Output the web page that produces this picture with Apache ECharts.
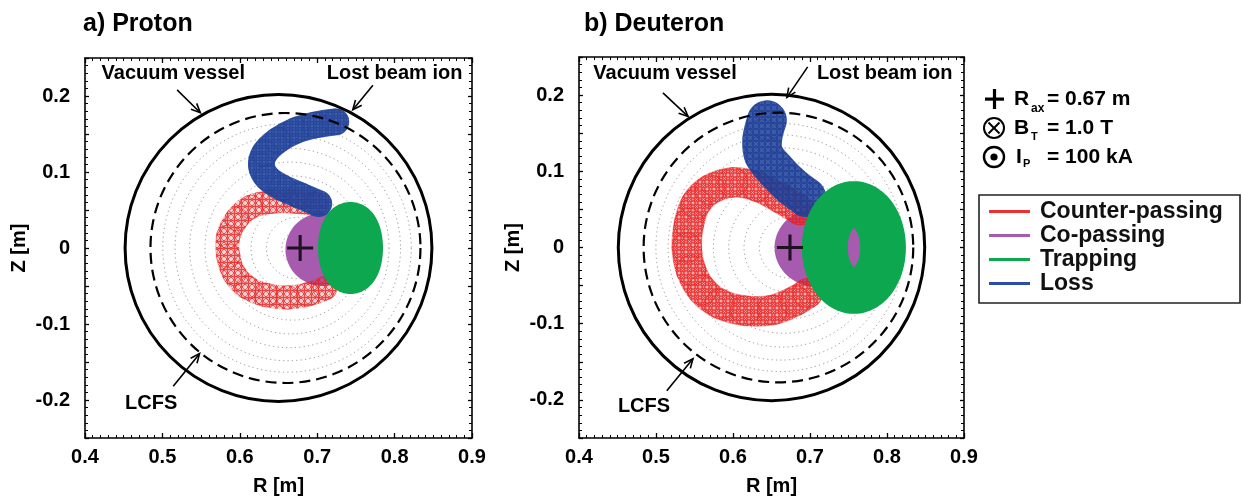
<!DOCTYPE html>
<html>
<head>
<meta charset="utf-8">
<script src="https://cdn.jsdelivr.net/npm/echarts@6/dist/echarts.min.js"></script>
<style>
  html, body { margin: 0; padding: 0; background: #fff; }
  #chart { width: 1242px; height: 501px; }
</style>
</head>
<body>
<div id="chart"></div>
<script>
// ---- axes ----
const rRange = [0.4, 0.9];
const zRange = [-0.25, 0.25];
const zTickLabels = [-0.2, -0.1, 0, 0.1, 0.2];

// ---- machine geometry: [R centre, Z centre, radius] ----
const vessel = [0.65, 0, 0.2];
const lcfs = [0.659, 0, 0.176];
const fluxSurfaces = [
  [0.676, 0, 0.022],
  [0.674, 0, 0.040],
  [0.672, 0, 0.058],
  [0.670, 0, 0.076],
  [0.668, 0, 0.094],
  [0.666, 0, 0.112],
  [0.664, 0, 0.130],
  [0.662, 0, 0.147],
  [0.661, 0, 0.162]
];

// ---- magnetic axis [R, Z] ----
const protonAxis = [0.678, 0];
const deuteronAxis = [0.674, 0];

// ---- proton orbits ----
// guiding-centre paths [R, Z]; gyro radius in m
const protonCounterPath = [
  [0.698, 0.058], [0.672, 0.061], [0.642, 0.061], [0.614, 0.054],
  [0.596, 0.038], [0.585, 0.015], [0.585, -0.010], [0.593, -0.034],
  [0.610, -0.052], [0.634, -0.062], [0.662, -0.065], [0.688, -0.061],
  [0.710, -0.053]
];
const protonCounterRho = 0.016;
const protonLossPath = [
  [0.724, 0.166], [0.698, 0.162], [0.672, 0.1545], [0.649, 0.1416],
  [0.632, 0.1247], [0.628, 0.1078], [0.636, 0.0922], [0.655, 0.0792],
  [0.6785, 0.0688], [0.702, 0.0584]
];
const protonLossRho = 0.0175;
// co-passing region [R centre, Z centre, half-width, half-height]
const protonCoPassing = [0.707, -0.002, 0.048, 0.048];
// trapped orbit [R centre, Z centre, half-width, half-height, band width]
const protonTrapping = [0.743, 0, 0.012, 0.030, 0.060];

// ---- deuteron orbits ----
const deuteronCounterPath = [
  [0.687, 0.049], [0.661, 0.065], [0.631, 0.080], [0.600, 0.0855],
  [0.570, 0.076], [0.552, 0.058], [0.543, 0.032], [0.540, 0.000],
  [0.5455, -0.030], [0.560, -0.056], [0.583, -0.074], [0.616, -0.083],
  [0.651, -0.082], [0.681, -0.070], [0.697, -0.060]
];
const deuteronCounterRho = 0.020;
const deuteronLossPath = [
  [0.644, 0.167], [0.638, 0.1425], [0.640, 0.1218], [0.656, 0.101],
  [0.675, 0.0816], [0.695, 0.0661]
];
const deuteronLossRho = 0.026;
const deuteronCoPassing = [0.710, 0, 0.056, 0.052];
const deuteronTrapping = [0.757, 0, 0.0378, 0.057, 0.0595];

// ---- annotations: arrows [R tail, Z tail, R head, Z head] and labels ----
const noteTexts = ['Vacuum vessel', 'Lost beam ion', 'LCFS'];
const protonNoteAt = [[0.514, 0.229], [0.800, 0.229], [0.4855, -0.204]];
const deuteronNoteAt = [[0.5117, 0.228], [0.797, 0.228], [0.4844, -0.2085]];
const protonArrows = [[0.519, 0.208, 0.549, 0.178], [0.772, 0.214, 0.746, 0.182], [0.514, -0.182, 0.548, -0.139]];
const deuteronArrows = [[0.509, 0.203, 0.5416, 0.172], [0.697, 0.237, 0.670, 0.197], [0.514, -0.188, 0.548, -0.146]];

const legendNames = ['Counter-passing', 'Co-passing', 'Trapping', 'Loss'];

// ---- styling ----
const FONT = 'Liberation Sans';
const COL = { counter: '#ec3030', co: '#a65bae', trap: '#0ca74e', loss: '#2b4ea4' };

// tiled texture of overlapping gyro loops, used as a stroke pattern
function loopTexture(color, tile, r, width) {
  const c = document.createElement('canvas');
  c.width = c.height = tile;
  const g = c.getContext('2d');
  g.strokeStyle = color;
  g.lineWidth = width;
  const n = Math.ceil(r / tile) + 1;
  for (let i = -n; i <= n; i++) {
    for (let j = -n; j <= n; j++) {
      g.beginPath();
      g.arc(tile / 2 + i * tile, tile / 2 + j * tile, r, 0, 2 * Math.PI);
      g.stroke();
    }
  }
  return { image: c, repeat: 'repeat' };
}

function ellipsePoints(c, sx, sy) {
  const pts = [];
  const n = 120;
  for (let k = 0; k < n; k++) {
    const t = (k / n) * 2 * Math.PI;
    pts.push([c[0] + sx * Math.cos(t), c[1] + sy * Math.sin(t)]);
  }
  return pts;
}

function circleSeries(data, style, ax, z) {
  return {
    type: 'custom', coordinateSystem: 'cartesian2d', xAxisIndex: ax, yAxisIndex: ax,
    z, silent: true, data,
    renderItem(params, api) {
      const c = api.coord([api.value(0), api.value(1)]);
      const s = api.size([api.value(2), api.value(2)]);
      return { type: 'circle', shape: { cx: c[0], cy: c[1], r: (s[0] + s[1]) / 2 },
        style: Object.assign({ fill: 'none' }, style) };
    }
  };
}

// orbit drawn as a band of gyro loops along a guiding-centre path
function bandSeries(name, path, rho, color, look, ax, z) {
  return {
    type: 'custom', name, coordinateSystem: 'cartesian2d', xAxisIndex: ax, yAxisIndex: ax,
    z, silent: true, data: path, itemStyle: { color },
    renderItem(params, api) {
      const s = api.size([rho, rho]);
      const rPx = (s[0] + s[1]) / 2;
      const here = api.coord([api.value(0), api.value(1)]);
      const children = [];
      if (params.dataIndexInside === 0) {
        const pts = path.map(p => api.coord(p));
        children.push({ type: 'polyline', shape: { points: pts, smooth: 0.35 },
          style: { fill: 'none', stroke: color, opacity: look.fill, lineWidth: 2 * rPx, lineCap: 'round', lineJoin: 'round' } });
        children.push({ type: 'polyline', shape: { points: pts, smooth: 0.35 },
          style: { fill: 'none', stroke: loopTexture(look.line, look.tile, rPx * 0.6, look.width), opacity: look.texture,
            lineWidth: 2 * rPx - 1, lineCap: 'round', lineJoin: 'round' } });
      }
      children.push({ type: 'circle', shape: { cx: here[0], cy: here[1], r: rPx - 0.5 },
        style: { fill: 'none', stroke: look.line, lineWidth: 0.8, opacity: look.ring } });
      return { type: 'group', children };
    }
  };
}

function regionSeries(name, item, color, ax, z) {
  return {
    type: 'custom', name, coordinateSystem: 'cartesian2d', xAxisIndex: ax, yAxisIndex: ax,
    z, silent: true, data: [item], itemStyle: { color },
    renderItem(params, api) {
      const c = api.coord([api.value(0), api.value(1)]);
      const s = api.size([api.value(2), api.value(3)]);
      return { type: 'polygon', shape: { points: ellipsePoints(c, s[0], s[1]) },
        style: { fill: color, stroke: 'none' } };
    }
  };
}

function trappedSeries(name, item, color, ax, z) {
  return {
    type: 'custom', name, coordinateSystem: 'cartesian2d', xAxisIndex: ax, yAxisIndex: ax,
    z, silent: true, data: [item], itemStyle: { color },
    renderItem(params, api) {
      const c = api.coord([api.value(0), api.value(1)]);
      const s = api.size([api.value(2), api.value(3)]);
      const w = api.size([api.value(4), api.value(4)])[0];
      const filled = w / 2 >= Math.min(s[0], s[1]);
      return { type: 'polygon', shape: { points: ellipsePoints(c, s[0], s[1]) },
        style: { fill: filled ? color : 'none', stroke: color, lineWidth: w, lineJoin: 'round' } };
    }
  };
}

function arrowSeries(arrows, ax) {
  return {
    type: 'custom', coordinateSystem: 'cartesian2d', xAxisIndex: ax, yAxisIndex: ax,
    z: 20, silent: true, data: arrows,
    renderItem(params, api) {
      const a = api.coord([api.value(0), api.value(1)]);
      const b = api.coord([api.value(2), api.value(3)]);
      const ang = Math.atan2(b[1] - a[1], b[0] - a[0]);
      const L = 10, spread = 0.42;
      const h1 = [b[0] - L * Math.cos(ang - spread), b[1] - L * Math.sin(ang - spread)];
      const h2 = [b[0] - L * Math.cos(ang + spread), b[1] - L * Math.sin(ang + spread)];
      return { type: 'group', children: [
        { type: 'line', shape: { x1: a[0], y1: a[1], x2: b[0], y2: b[1] }, style: { stroke: '#000', lineWidth: 1.6 } },
        { type: 'polyline', shape: { points: [h1, b, h2] }, style: { stroke: '#000', fill: 'none', lineWidth: 1.6 } }
      ] };
    }
  };
}

function noteSeries(positions, ax) {
  return {
    type: 'custom', coordinateSystem: 'cartesian2d', xAxisIndex: ax, yAxisIndex: ax,
    z: 20, silent: true, data: positions,
    renderItem(params, api) {
      const p = api.coord([api.value(0), api.value(1)]);
      return { type: 'text', x: p[0], y: p[1],
        style: { text: noteTexts[params.dataIndex], fill: '#000', fontSize: 20, fontWeight: 'bold',
          fontFamily: FONT, align: 'center', verticalAlign: 'middle' } };
    }
  };
}

function axisMarker(pos, ax) {
  return {
    type: 'scatter', xAxisIndex: ax, yAxisIndex: ax, z: 30, silent: true,
    data: [pos], symbol: 'path://M8.8,0h2.4v8.8h8.8v2.4h-8.8v8.8h-2.4v-8.8h-8.8v-2.4h8.8z',
    symbolSize: 26, itemStyle: { color: '#000' }
  };
}

function panelSeries(ax, d) {
  return [
    circleSeries(fluxSurfaces, { stroke: '#333', lineWidth: 1, lineDash: [1.2, 3.2], opacity: 0.5 }, ax, 1),
    regionSeries('Co-passing', d.co, COL.co, ax, 2),
    bandSeries('Counter-passing', d.counter, d.counterRho, COL.counter, d.counterLook, ax, 3),
    bandSeries('Loss', d.loss, d.lossRho, COL.loss, d.lossLook, ax, 4),
    trappedSeries('Trapping', d.trap, COL.trap, ax, 5),
    circleSeries([lcfs], { stroke: '#000', lineWidth: 2.2, lineDash: [11, 6] }, ax, 10),
    circleSeries([vessel], { stroke: '#000', lineWidth: 3 }, ax, 10),
    axisMarker(d.axis, ax),
    arrowSeries(d.arrows, ax),
    noteSeries(d.notes, ax)
  ];
}

const labelStyle = { color: '#000', fontSize: 20, fontWeight: 'bold', fontFamily: FONT };
const nameStyle = { color: '#000', fontSize: 20, fontWeight: 'bold', fontFamily: FONT };
const lineStyle = { color: '#000', width: 1.6 };

function rAxis(grid, position, withLabels) {
  return {
    type: 'value', gridIndex: grid, position, min: rRange[0], max: rRange[1], interval: 0.1,
    axisLine: { show: true, onZero: false, lineStyle },
    axisTick: { show: true, inside: true, length: 5, lineStyle: { color: '#000', width: 1.3 } },
    minorTick: { show: true, splitNumber: 10, length: 3, lineStyle: { color: '#000', width: 1 } },
    splitLine: { show: false }, minorSplitLine: { show: false },
    axisLabel: Object.assign({ show: withLabels, margin: 9 }, labelStyle),
    name: withLabels ? 'R [m]' : '', nameLocation: 'middle', nameGap: 38, nameTextStyle: nameStyle
  };
}

function zAxis(grid, position, withLabels) {
  return {
    type: 'value', gridIndex: grid, position, min: zRange[0], max: zRange[1], interval: 0.05,
    axisLine: { show: true, onZero: false, lineStyle },
    axisTick: { show: true, inside: true, length: 4, lineStyle: { color: '#000', width: 1.3 } },
    minorTick: { show: true, splitNumber: 5, length: 3, lineStyle: { color: '#000', width: 1 } },
    splitLine: { show: false }, minorSplitLine: { show: false },
    axisLabel: Object.assign({
      show: withLabels, margin: 15,
      formatter: v => zTickLabels.some(t => Math.abs(t - v) < 1e-9) ? String(Math.round(v * 10) / 10) : ''
    }, labelStyle),
    name: withLabels ? 'Z [m]' : '', nameLocation: 'middle', nameGap: 56, nameTextStyle: nameStyle
  };
}

const subText = (x, y, text, size) => ({ type: 'text', x, y,
  style: { text, fill: '#000', fontSize: size, fontWeight: 'bold', fontFamily: FONT, verticalAlign: 'middle' } });

const chart = echarts.init(document.getElementById('chart'));
chart.setOption({
  animation: false,
  backgroundColor: '#fff',
  textStyle: { fontFamily: FONT },
  title: [
    { text: 'a) Proton', left: 78, top: 7, textStyle: { fontSize: 25, fontWeight: 'bold', color: '#000', fontFamily: FONT } },
    { text: 'b) Deuteron', left: 579, top: 7, textStyle: { fontSize: 25, fontWeight: 'bold', color: '#000', fontFamily: FONT } }
  ],
  grid: [
    { left: 85, right: 770, top: 58, bottom: 58 },
    { left: 579, right: 278, top: 57, bottom: 58 }
  ],
  xAxis: [rAxis(0, 'bottom', true), rAxis(0, 'top', false), rAxis(1, 'bottom', true), rAxis(1, 'top', false)],
  yAxis: [zAxis(0, 'left', true), zAxis(0, 'right', false), zAxis(1, 'left', true), zAxis(1, 'right', false)],
  legend: {
    data: legendNames, orient: 'vertical', left: 989, top: 200, padding: 0,
    itemWidth: 41, itemHeight: 3, itemGap: 1, icon: 'rect', selectedMode: false,
    textStyle: { fontSize: 23, fontWeight: 'bold', fontFamily: FONT, color: '#111', lineHeight: 23, padding: [0, 0, 0, 5] }
  },
  graphic: [
    { type: 'rect', shape: { x: 979, y: 195, width: 261, height: 108 }, style: { fill: 'none', stroke: '#222', lineWidth: 1.6 } },
    { type: 'rect', shape: { x: 985, y: 97.5, width: 19, height: 3.2 }, style: { fill: '#000' } },
    { type: 'rect', shape: { x: 992.9, y: 89, width: 3.2, height: 20 }, style: { fill: '#000' } },
    subText(1014, 99, 'R', 21), subText(1031, 109, 'ax', 12), subText(1047, 99, '= 0.67 m', 21),
    { type: 'circle', shape: { cx: 994, cy: 128, r: 10 }, style: { fill: 'none', stroke: '#000', lineWidth: 2 } },
    { type: 'line', shape: { x1: 988.5, y1: 122.5, x2: 999.5, y2: 133.5 }, style: { stroke: '#000', lineWidth: 2 } },
    { type: 'line', shape: { x1: 999.5, y1: 122.5, x2: 988.5, y2: 133.5 }, style: { stroke: '#000', lineWidth: 2 } },
    subText(1014, 128, 'B', 21), subText(1031, 137, 'T', 11), subText(1047, 128, '= 1.0 T', 21),
    { type: 'circle', shape: { cx: 994, cy: 157, r: 10 }, style: { fill: 'none', stroke: '#000', lineWidth: 2.4 } },
    { type: 'circle', shape: { cx: 994, cy: 157, r: 3.6 }, style: { fill: '#000' } },
    subText(1016, 157, 'I', 21), subText(1023, 164, 'P', 11), subText(1047, 157, '= 100 kA', 21)
  ],
  series: [
    ...panelSeries(0, {
      co: protonCoPassing, counter: protonCounterPath, counterRho: protonCounterRho,
      counterLook: { fill: 0.22, line: '#e81f1f', tile: 7, width: 0.9, texture: 0.85, ring: 0.8 },
      loss: protonLossPath, lossRho: protonLossRho,
      lossLook: { fill: 0.88, line: '#1f3f96', tile: 6, width: 0.8, texture: 0.8, ring: 0.6 },
      trap: protonTrapping, axis: protonAxis, arrows: protonArrows, notes: protonNoteAt
    }),
    ...panelSeries(2, {
      co: deuteronCoPassing, counter: deuteronCounterPath, counterRho: deuteronCounterRho,
      counterLook: { fill: 0.4, line: '#e81f1f', tile: 7, width: 0.9, texture: 0.85, ring: 0.8 },
      loss: deuteronLossPath, lossRho: deuteronLossRho,
      lossLook: { fill: 0.72, line: '#1f3f96', tile: 6, width: 0.8, texture: 0.9, ring: 0.7 },
      trap: deuteronTrapping, axis: deuteronAxis, arrows: deuteronArrows, notes: deuteronNoteAt
    })
  ]
});
</script>
</body>
</html>
